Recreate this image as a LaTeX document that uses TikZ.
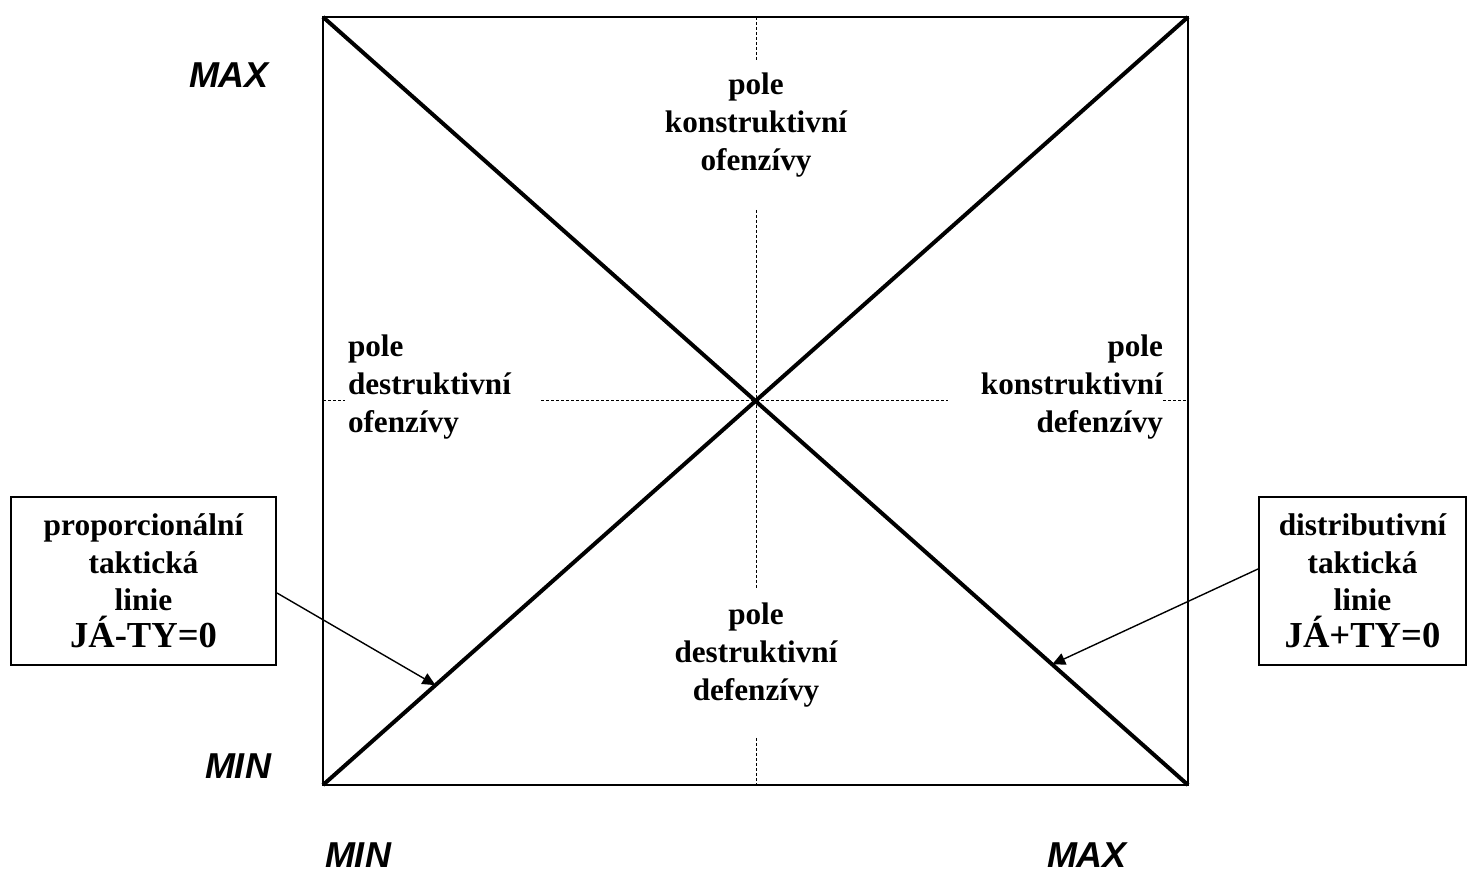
\documentclass[tikz,border=0pt]{standalone}
\usepackage{fontspec}
\setmainfont{Liberation Serif}
\newfontfamily\axisfont{Liberation Sans}
\usetikzlibrary{arrows.meta, positioning}
\tikzset{
  every picture/.style={line width=1pt},
  field/.style={font=\bfseries\fontsize{15.6}{18.8}\selectfont, inner sep=0pt},
  linebox/.style={draw, line width=1pt, font=\bfseries\fontsize{15.7}{18.6}\selectfont, align=center, minimum width=#1, minimum height=84pt, inner sep=0pt},
  axislabel/.style={font=\axisfont\bfseries\itshape\fontsize{18}{18}\selectfont, inner sep=0pt},
  guide/.style={line width=0.5pt, dash pattern=on 1.5pt off 1pt},
  diag/.style={line width=2pt},
  pointer/.style={-{Triangle[length=6.5pt, width=6pt]}, line width=0.7pt},
}
\newcommand{\bigline}[1]{{\fontsize{18.3}{20}\selectfont #1}}

\begin{document}
\begin{tikzpicture}[x=0.5pt, y=-0.5pt]
  \useasboundingbox (0,0) rectangle (1468,876);
  % the field and its corners
  \coordinate (tl) at (323,17);
  \coordinate (tr) at (1188,17);
  \coordinate (bl) at (323,785);
  \coordinate (br) at (1188,785);
  \coordinate (mid) at (756,401);
  \draw (tl) rectangle (br);

  % dotted axes through the middle, broken where the texts stand
  \draw[guide] (756,17) -- (756,62);
  \draw[guide] (756,210) -- (756,590);
  \draw[guide] (756,738) -- (756,785);
  \draw[guide] (323,401) -- (345,401);
  \draw[guide] (541,401) -- (948,401);
  \draw[guide] (1163,401) -- (1188,401);

  % the two tactical lines
  \draw[diag] (tl) -- (br) coordinate[pos=0.843] (distend);
  \draw[diag] (bl) -- (tr) coordinate[pos=0.13] (propend);

  % the four fields
  \node[field, align=center] (konofenz) at (756,125) {pole\\konstruktivní\\ofenzívy};
  \node[field, align=center] (destdefenz) at (756,655) {pole\\destruktivní\\defenzívy};
  \node[field, align=left, anchor=west] (destofenz) at (347,387) {pole\\destruktivní\\ofenzívy};
  \node[field, align=right, anchor=east] (kondefenz) at (1164,387) {pole\\konstruktivní\\defenzívy};

  % boxes naming the lines
  \node[linebox=132.5pt] (propbox) at (143.5,581) {proporcionální\\taktická\\linie\\\bigline{JÁ-TY=0}};
  \node[linebox=103.5pt] (distbox) at (1362.5,581) {distributivní\\taktická\\linie\\\bigline{JÁ+TY=0}};
  \draw[pointer] ([yshift=-6pt]propbox.east) -- (propend);
  \draw[pointer] ([yshift=6pt]distbox.west) -- (distend);

  % scale ends
  \node[axislabel] (ymax) at (229,75) {MAX};
  \node[axislabel] (ymin) at (238,766) {MIN};
  \node[axislabel] (xmin) at (358,855) {MIN};
  \node[axislabel] (xmax) at (1087,855) {MAX};
\end{tikzpicture}
\end{document}
